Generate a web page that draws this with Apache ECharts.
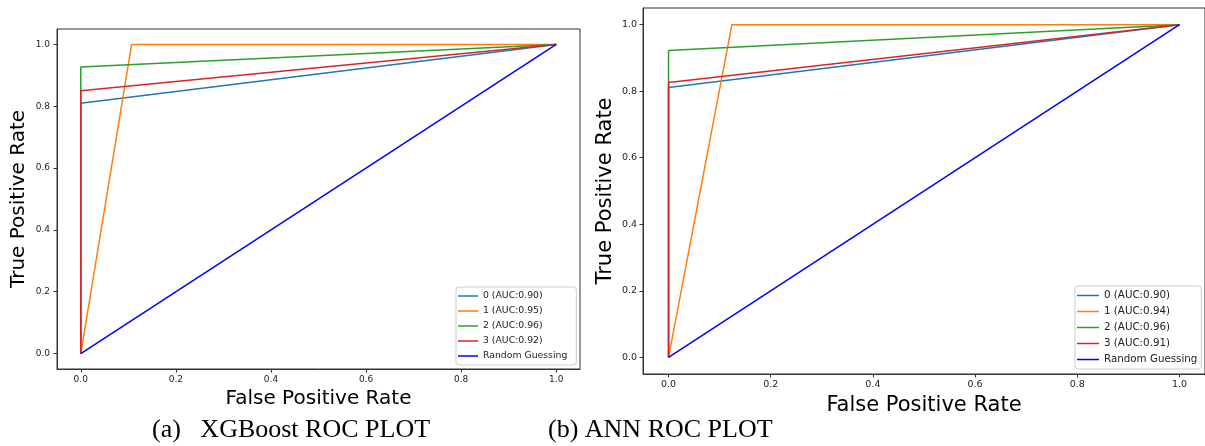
<!DOCTYPE html>
<html>
<head>
<meta charset="utf-8">
<script src="https://cdn.jsdelivr.net/npm/echarts@6/dist/echarts.min.js"></script>
<style>
  html, body { margin: 0; padding: 0; background: #fff; }
  #chart { width: 1205px; height: 446px; }
</style>
</head>
<body>
<div id="chart"></div>
<script>
// 刻度
const tickValues = [0, 0.2, 0.4, 0.6, 0.8, 1.0]

// (a) XGBoost ROC 曲线
const xgbNames = ['0 (AUC:0.90)', '1 (AUC:0.95)', '2 (AUC:0.96)', '3 (AUC:0.92)', 'Random Guessing']
const xgbFpr = [[0, 0, 1], [0, 0.107, 1], [0, 0, 1], [0, 0, 1], [0, 1]]
const xgbTpr = [[0, 0.81, 1], [0, 1, 1], [0, 0.927, 1], [0, 0.85, 1], [0, 1]]

// (b) ANN ROC 曲线
const annNames = ['0 (AUC:0.90)', '1 (AUC:0.94)', '2 (AUC:0.96)', '3 (AUC:0.91)', 'Random Guessing']
const annFpr = [[0, 0, 1], [0, 0.124, 1], [0, 0, 1], [0, 0, 1], [0, 1]]
const annTpr = [[0, 0.811, 1], [0, 1, 1], [0, 0.922, 1], [0, 0.826, 1], [0, 1]]

const colors = ['#1f77b4', '#ff7f0e', '#2ca02c', '#d62728', '#0000ff']

const sansFont = 'DejaVu Sans'

function xAxisOf(gridIndex, fontSize, nameSize, nameGap, labelMargin){
    return {
        gridIndex: gridIndex,
        type: 'value',
        min: -0.05,
        max: 1.05,
        name: 'False Positive Rate',
        nameLocation: 'middle',
        nameGap: nameGap,
        nameTextStyle: { fontFamily: sansFont, fontSize: nameSize, color: '#000' },
        axisLine: { show: true, onZero: false, lineStyle: { color: '#333', width: 1 } },
        axisTick: { show: true, length: 3.5, lineStyle: { color: '#333' }, customValues: tickValues },
        axisLabel: {
            fontFamily: sansFont, fontSize: fontSize, color: '#222', margin: labelMargin,
            customValues: tickValues,
            formatter: v => v.toFixed(1)
        },
        splitLine: { show: false }
    }
}

function yAxisOf(gridIndex, fontSize, nameSize, nameGap, labelMargin){
    return {
        gridIndex: gridIndex,
        type: 'value',
        min: -0.05,
        max: 1.05,
        name: 'True Positive Rate',
        nameLocation: 'middle',
        nameGap: nameGap,
        nameTextStyle: { fontFamily: sansFont, fontSize: nameSize, color: '#000' },
        axisLine: { show: true, onZero: false, lineStyle: { color: '#333', width: 1 } },
        axisTick: { show: true, length: 3.5, lineStyle: { color: '#333' }, customValues: tickValues },
        axisLabel: {
            fontFamily: sansFont, fontSize: fontSize, color: '#222', margin: labelMargin,
            customValues: tickValues,
            formatter: v => v.toFixed(1)
        },
        splitLine: { show: false }
    }
}

function seriesOf(names, fpr, tpr, axisIndex){
    let list = []
    for (let i = 0; i < names.length; i++) {
        let pts = []
        for (let j = 0; j < fpr[i].length; j++)
            pts.push([fpr[i][j], tpr[i][j]])
        list.push({
            name: names[i],
            type: 'line',
            xAxisIndex: axisIndex,
            yAxisIndex: axisIndex,
            data: pts,
            symbol: 'none',
            silent: true,
            animation: false,
            lineStyle: { color: colors[i], width: 1.5 },
            itemStyle: { color: colors[i] }
        })
    }
    return list
}

function legendOf(names, left, top, fontSize, lineHeight, itemWidth, padding){
    return {
        orient: 'vertical',
        left: left,
        top: top,
        data: names.map(n => ({ name: n, icon: 'rect' })),
        itemWidth: itemWidth,
        itemHeight: 1.5,
        itemGap: 3,
        itemTextGap: 8,
        padding: padding,
        borderColor: '#cccccc',
        borderWidth: 1,
        borderRadius: 3,
        backgroundColor: 'rgba(255,255,255,0.8)',
        selectedMode: false,
        textStyle: { fontFamily: sansFont, fontSize: fontSize, lineHeight: lineHeight, color: '#222' }
    }
}

let option = {
    backgroundColor: '#fff',
    animation: false,
    grid: [
        { left: 57, top: 29, width: 523, height: 340, show: true, borderColor: '#333', borderWidth: 1, backgroundColor: 'transparent' },
        { left: 643, top: 8, width: 566, height: 366, show: true, borderColor: '#333', borderWidth: 1, backgroundColor: 'transparent' }
    ],
    xAxis: [
        xAxisOf(0, 9, 20, 16, 6),
        xAxisOf(1, 9.5, 21, 18, 6)
    ],
    yAxis: [
        yAxisOf(0, 9, 20, 28, 7),
        yAxisOf(1, 9.5, 21, 27, 6)
    ],
    legend: [
        legendOf(xgbNames, 456, 287, 9.3, 12, 20, [3, 9, 3, 2]),
        legendOf(annNames, 1075, 286, 10.3, 13, 22, [3, 4, 3, 2])
    ],
    // 标题文字按中线对齐
    graphic: [
        { type: 'text', x: 152, y: 430, style: { text: '(a)   XGBoost ROC PLOT', font: '26px "Liberation Serif"', fill: '#000', verticalAlign: 'middle' } },
        { type: 'text', x: 548, y: 430, style: { text: '(b) ANN ROC PLOT', font: '26px "Liberation Serif"', fill: '#000', verticalAlign: 'middle' } }
    ],
    series: seriesOf(xgbNames, xgbFpr, xgbTpr, 0).concat(seriesOf(annNames, annFpr, annTpr, 1))
}

let chartDom = echarts.init(document.querySelector('#chart'))
chartDom.setOption(option)
</script>
</body>
</html>
